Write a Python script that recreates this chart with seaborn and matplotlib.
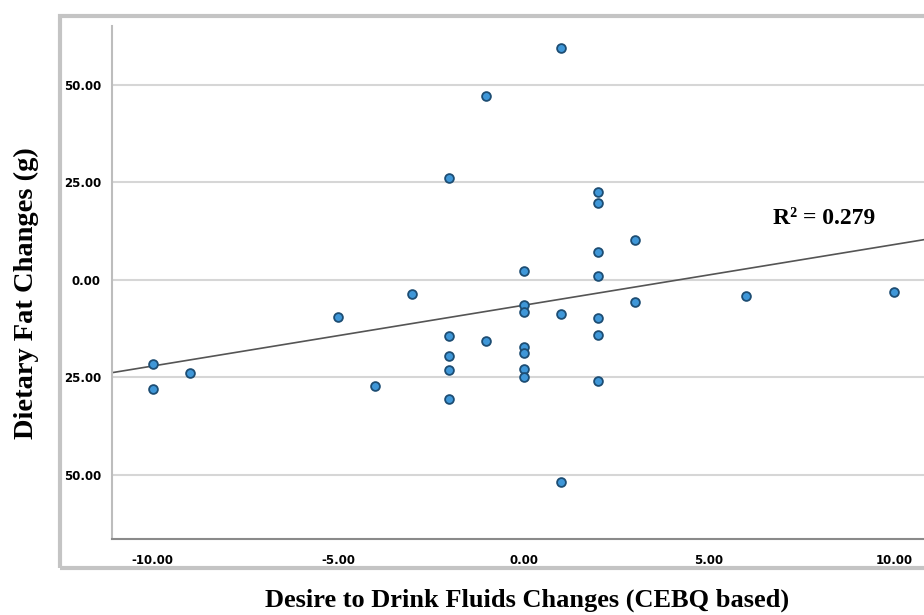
import pandas as pd
import matplotlib.pyplot as plt
import matplotlib.patches as mpatches
import seaborn as sns

# values
drink_change = [1, -1, -2, 2, 2, 3, 2, 0, 2, -3, 10, 6, 3, 0, 0, 1, -5, 2,
                2, -2, -1, 0, 0, -2, -10, 0, -2, -9, 0, 2, -4, -10, -2, 1]
fat_change = [59.5, 47.2, 26.1, 22.5, 19.8, 10.3, 7.2, 2.3, 1.1, -3.6, -3.1, -4.1,
              -5.6, -6.4, -8.2, -8.7, -9.6, -9.8, -14.1, -14.4, -15.6, -17.1,
              -18.8, -19.4, -21.6, -22.9, -23.1, -23.9, -24.8, -25.9, -27.1,
              -28.0, -30.6, -51.9]
x_ticks = [-10, -5, 0, 5, 10]
x_tick_labels = ['-10.00', '-5.00', '0.00', '5.00', '10.00']
y_ticks = [50, 25, 0, -25, -50]
y_tick_labels = ['50.00', '25.00', '0.00', '25.00', '50.00']  # minus signs are cut off in the original
r2_text = 'R\u00b2 = 0.279'

data = pd.DataFrame({'drink': drink_change, 'fat': fat_change})

sns.set_style('white')
fig = plt.figure(figsize=(9.24, 6.15), dpi=100)
ax = fig.add_axes([0.1212, 0.1236, 0.8788, 0.8341])

# outer grey frame around the plot area
frame = mpatches.Rectangle((0.065, 0.0764), 1.0, 0.8976, transform=fig.transFigure,
                           fill=False, edgecolor='#c4c4c4', linewidth=3, clip_on=False)
fig.patches.append(frame)

ax.set_xlim(-11.1, 10.8)
ax.set_ylim(-66.4, 65.1)

sns.regplot(data=data, x='drink', y='fat', ax=ax, ci=None, truncate=False,
            scatter_kws={'s': 40, 'color': '#3f97d8', 'edgecolor': '#1d4d73',
                         'linewidths': 1.3, 'alpha': 1, 'zorder': 3},
            line_kws={'color': '#555555', 'linewidth': 1.2, 'zorder': 2})

ax.set_xticks(x_ticks)
ax.set_xticklabels(x_tick_labels)
ax.set_yticks(y_ticks)
ax.set_yticklabels(y_tick_labels)
for lab in ax.get_xticklabels() + ax.get_yticklabels():
    lab.set_fontweight('bold')
    lab.set_fontsize(8.5)
    lab.set_fontfamily('DejaVu Sans')
    lab.set_color('black')
ax.tick_params(axis='both', length=0)
ax.tick_params(axis='y', pad=8)
ax.tick_params(axis='x', pad=11)

ax.yaxis.grid(True, color='#d6d6d6', linewidth=1.5)
ax.xaxis.grid(False)
ax.set_axisbelow(True)

ax.spines['top'].set_visible(False)
ax.spines['right'].set_visible(False)
ax.spines['left'].set_color('#bdbdbd')
ax.spines['left'].set_linewidth(1.5)
ax.spines['bottom'].set_color('#8a8a8a')
ax.spines['bottom'].set_linewidth(1.5)

ax.set_xlabel('')
ax.set_ylabel('')
fig.text(0.57, 0.024, 'Desire to Drink Fluids Changes (CEBQ based)', ha='center', va='center',
         fontsize=19, fontweight='bold', family='Liberation Serif', color='black')
fig.text(0.029, 0.523, 'Dietary Fat Changes (g)', ha='center', va='center', rotation=90,
         fontsize=20.5, fontweight='bold', family='Liberation Serif', color='black')

ax.text(0.814, 0.624, r2_text, transform=ax.transAxes, ha='left', va='center',
        fontsize=17, fontweight='bold', family='Liberation Serif', color='black')

fig.savefig('out.png', dpi=100)
